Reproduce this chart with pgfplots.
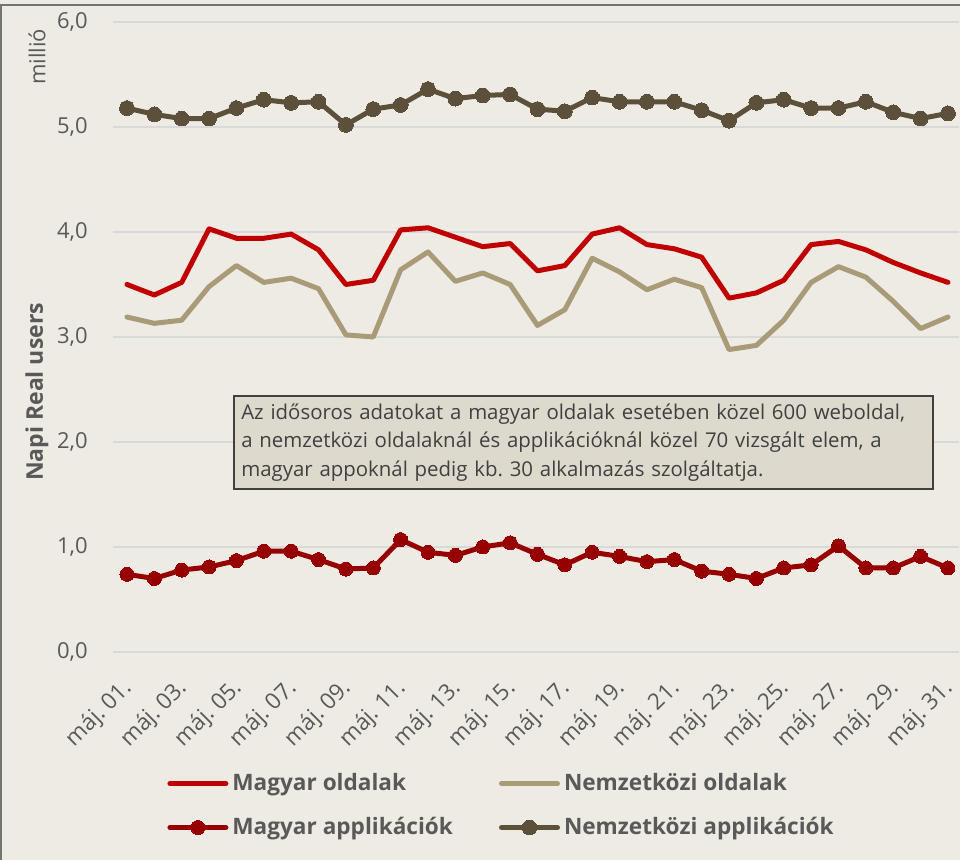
\documentclass[border=0pt]{standalone}
\usepackage{pgfplots}
\pgfplotsset{compat=1.18}
\usepackage{fontspec}
\setmainfont{Open Sans}
\frenchspacing
\definecolor{bg}{RGB}{238,235,228}
\definecolor{gridc}{RGB}{217,217,217}
\definecolor{txt}{RGB}{89,89,89}
\definecolor{cMO}{RGB}{192,0,0}
\definecolor{cNO}{RGB}{169,155,120}
\definecolor{cMA}{RGB}{150,0,0}
\definecolor{cNA}{RGB}{92,80,58}
\definecolor{boxfill}{RGB}{222,217,205}
\definecolor{boxtxt}{RGB}{64,64,64}
\begin{document}
\begin{tikzpicture}
\fill[bg] (0,0) rectangle (480pt,430pt);
\draw[gray!90!black, line width=1pt] (0.5pt,0pt) -- (0.5pt,427.5pt) -- (480pt,427.5pt);
\begin{axis}[
  at={(56.65pt,104pt)}, anchor=south west,
  scale only axis, width=422.8pt, height=315pt,
  xmin=0.5, xmax=31.4, ymin=0, ymax=6,
  axis line style={draw=none}, major tick length=0pt,
  ymajorgrids, grid style={gridc, line width=0.8pt},
  ytick={0,1,...,6},
  xtick={1,3,...,31},
  xticklabels={máj. 01.,máj. 03.,máj. 05.,máj. 07.,máj. 09.,máj. 11.,máj. 13.,máj. 15.,máj. 17.,máj. 19.,máj. 21.,máj. 23.,máj. 25.,máj. 27.,máj. 29.,máj. 31.},
  /pgf/number format/.cd, assume math mode=true, use comma, fixed, fixed zerofill, precision=1,
  /pgfplots/.cd,
  ticklabel style={font=\fontsize{11}{13}\selectfont, text=txt},
  yticklabel style={anchor=east, inner sep=0pt, xshift=-12.6pt},
  xticklabel style={font=\fontsize{11.3}{13}\selectfont, inner sep=0pt, xshift=-3pt, yshift=-12pt, rotate=45, anchor=north east},
  legend columns=2,
  legend cell align=left,
  legend style={draw=none, fill=none, at={(0.0635,-0.186)}, anchor=north west,
    font=\fontsize{11.3}{14}\bfseries\selectfont, text=txt, inner sep=0pt,
    row sep=7.8pt,
    /tikz/every even column/.append style={column sep=21pt}},
  legend image code/.code={\draw[mark repeat=2,mark phase=2,#1] plot coordinates {(0pt,0pt) (14pt,0pt) (28pt,0pt)};},
  every axis plot/.append style={line width=2.5pt, line join=round, line cap=round},
]
\addplot[cMO, mark=none] coordinates {
(1,3.50)(2,3.40)(3,3.52)(4,4.03)(5,3.94)(6,3.94)(7,3.98)(8,3.83)(9,3.50)(10,3.54)(11,4.02)(12,4.04)(13,3.95)(14,3.86)(15,3.89)(16,3.63)(17,3.68)(18,3.98)(19,4.04)(20,3.88)(21,3.84)(22,3.76)(23,3.37)(24,3.42)(25,3.54)(26,3.88)(27,3.91)(28,3.83)(29,3.71)(30,3.61)(31,3.52)};
\addlegendentry{Magyar oldalak}
\addplot[cNO, mark=none] coordinates {
(1,3.19)(2,3.13)(3,3.16)(4,3.48)(5,3.68)(6,3.52)(7,3.56)(8,3.46)(9,3.02)(10,3.00)(11,3.64)(12,3.81)(13,3.53)(14,3.61)(15,3.50)(16,3.11)(17,3.26)(18,3.75)(19,3.62)(20,3.45)(21,3.55)(22,3.47)(23,2.88)(24,2.92)(25,3.16)(26,3.52)(27,3.67)(28,3.57)(29,3.34)(30,3.08)(31,3.19)};
\addlegendentry{Nemzetközi oldalak}
\addplot[cMA, mark=*, mark options={fill=cMA, draw=cMA, line width=0pt, scale=1.75}] coordinates {
(1,0.74)(2,0.70)(3,0.78)(4,0.81)(5,0.87)(6,0.96)(7,0.96)(8,0.88)(9,0.79)(10,0.80)(11,1.07)(12,0.95)(13,0.92)(14,1.00)(15,1.04)(16,0.93)(17,0.83)(18,0.95)(19,0.91)(20,0.86)(21,0.88)(22,0.77)(23,0.74)(24,0.70)(25,0.80)(26,0.83)(27,1.01)(28,0.80)(29,0.80)(30,0.91)(31,0.80)};
\addlegendentry{Magyar applikációk}
\addplot[cNA, mark=*, mark options={fill=cNA, draw=cNA, line width=0pt, scale=1.85}] coordinates {
(1,5.18)(2,5.12)(3,5.08)(4,5.08)(5,5.18)(6,5.26)(7,5.23)(8,5.24)(9,5.02)(10,5.17)(11,5.21)(12,5.36)(13,5.27)(14,5.30)(15,5.31)(16,5.17)(17,5.15)(18,5.28)(19,5.24)(20,5.24)(21,5.24)(22,5.16)(23,5.06)(24,5.23)(25,5.26)(26,5.18)(27,5.18)(28,5.24)(29,5.14)(30,5.08)(31,5.13)};
\addlegendentry{Nemzetközi applikációk}
\end{axis}
\node[rotate=90, font=\fontsize{11.5}{14}\bfseries\selectfont, text=txt] at (18.5pt,234pt) {Napi Real users};
\node[rotate=90, font=\fontsize{11}{13}\selectfont, text=txt] at (18.5pt,401.5pt) {millió};
\node[draw=boxtxt, line width=0.8pt, fill=boxfill, anchor=north west, minimum width=349.5pt, minimum height=46.5pt, align=left, text=boxtxt, font=\fontsize{10.2}{14.2}\selectfont, inner xsep=3.5pt, text width=342pt] at (116.5pt,232.5pt) {Az idősoros adatokat a magyar oldalak esetében közel 600 weboldal,\\a nemzetközi oldalaknál és applikációknál közel 70 vizsgált elem, a\\magyar appoknál pedig kb. 30 alkalmazás szolgáltatja.};
\pgfresetboundingbox
\path[use as bounding box] (0,0) rectangle (480pt,430pt);
\end{tikzpicture}
\end{document}
